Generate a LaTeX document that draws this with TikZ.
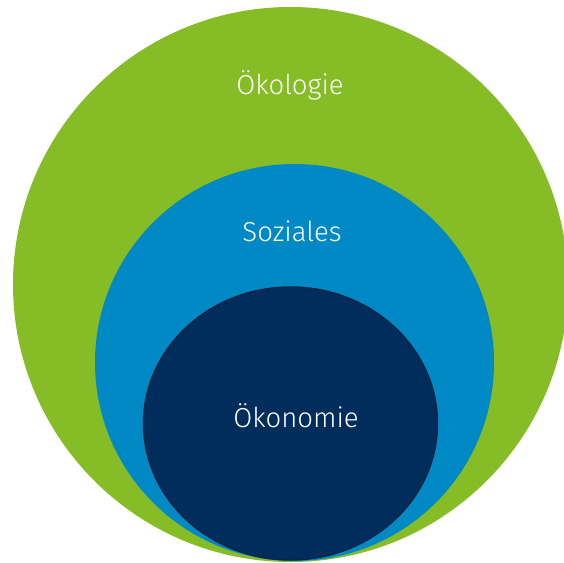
\documentclass[tikz,border=0pt]{standalone}
\usepackage{fontspec}
\setmainfont{Fira Sans}[UprightFont=* Light]
\definecolor{oekogreen}{HTML}{86BC25}
\definecolor{sozblue}{HTML}{0089C4}
\definecolor{oknavy}{HTML}{002D5C}
\definecolor{okedge}{HTML}{0F2442}
\tikzset{
  lbl/.style={text=white, font=\fontsize{27.5}{32}\selectfont, inner sep=0pt, anchor=center}
}
\begin{document}
\begin{tikzpicture}[x=1pt,y=-1pt]
\useasboundingbox (0,0) rectangle (564,562);
\begin{scope}
\clip (0,0) rectangle (564,562);
\fill[oekogreen] (290.5,284.5) ellipse [x radius=277.5, y radius=277.5];
\fill[sozblue] (294.5,362.5) ellipse [x radius=199.5, y radius=198.5];
\fill[oknavy, draw=okedge, line width=1.4] (290.5,423.5) ellipse [x radius=147, y radius=136.5];
\end{scope}
\node[lbl] (oek) at (290,85) {Ökologie};
\node[lbl] (soz) at (292,231) {Soziales};
\node[lbl] (okn) at (296,416) {Ökonomie};
\end{tikzpicture}
\end{document}
